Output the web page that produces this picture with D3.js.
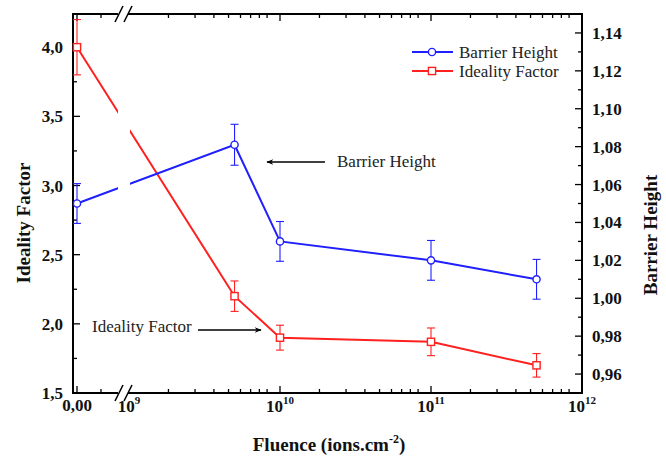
<!DOCTYPE html>
<html>
<head>
<meta charset="utf-8">
<script src="https://cdn.jsdelivr.net/npm/d3@7"></script>
<style>
html,body{margin:0;padding:0;background:#fff;}
svg{display:block;}
text{font-family:"Liberation Serif","Times New Roman",serif;}
</style>
</head>
<body>
<svg id="chart" width="666" height="458"></svg>
<script>
// ---- data ----
const fluence = [0, 5e9, 1e10, 1e11, 5e11];
const barrierHeight = [1.050, 1.081, 1.030, 1.020, 1.010];
const barrierErr = [0.0105, 0.0108, 0.0105, 0.0105, 0.0105];
const idealityFactor = [4.0, 2.20, 1.90, 1.87, 1.70];
const idealityErr = [0.20, 0.11, 0.09, 0.10, 0.085];
const leftTicks = [1.5, 2.0, 2.5, 3.0, 3.5, 4.0];
const leftTickLabels = ["1,5", "2,0", "2,5", "3,0", "3,5", "4,0"];
const rightTicks = [0.96, 0.98, 1.00, 1.02, 1.04, 1.06, 1.08, 1.10, 1.12, 1.14];
const rightTickLabels = ["0,96", "0,98", "1,00", "1,02", "1,04", "1,06", "1,08", "1,10", "1,12", "1,14"];
const xLogTicks = [1e9, 1e10, 1e11, 1e12];
const xLogTickExp = ["9", "10", "11", "12"];
const xZeroLabel = "0,00";
const seriesNames = ["Barrier Height", "Ideality Factor"];

// ---- layout ----
const L = 73, R = 582, T = 14, B = 393;
const breakL = 118, breakR = 130;
const svg = d3.select("#chart");

const yLeft = d3.scaleLinear().domain([1.5, 4.24]).range([B, T]);
const yRight = d3.scaleLinear().domain([0.95, 1.15]).range([B, T]);
const xLin = d3.scaleLinear().domain([-1/6, 1.7083]).range([L, breakL]);
const xLog = d3.scaleLog().domain([1e9, 1e12]).range([129, R]);
const xPos = v => v === 0 ? xLin(v) : xLog(v);

const blue = "#1f1fff", red = "#ff2020";

// clip for broken lines
const defs = svg.append("defs");
const cp = defs.append("clipPath").attr("id", "brk");
cp.append("rect").attr("x", 0).attr("y", 0).attr("width", breakL).attr("height", 458);
cp.append("rect").attr("x", breakR).attr("y", 0).attr("width", 666 - breakR).attr("height", 458);
defs.append("marker").attr("id", "arr").attr("viewBox", "0 0 10 10").attr("refX", 9).attr("refY", 5)
  .attr("markerWidth", 9).attr("markerHeight", 7).attr("markerUnits", "userSpaceOnUse").attr("orient", "auto")
  .append("path").attr("d", "M0,1 L10,5 L0,9 L3,5 Z").attr("fill", "#000");

// ---- axes frame ----
const axisG = svg.append("g");
const majorLen = 7, minorLen = 4, minorShift = -6;
const xMajor = [xLin(0)].concat(xLogTicks.slice(1).map(d => xLog(d)));
const xMinor = [xLin(1)];
[1e9, 1e10, 1e11].forEach(dec => { for (let k = 2; k <= 9; k++) xMinor.push(xLog(k * dec) + minorShift); });
[[B, -1], [T, 1]].forEach(([y0, dir]) => {
  axisG.selectAll(null).data(xMajor).enter().append("line")
    .attr("x1", d => d).attr("x2", d => d).attr("y1", y0).attr("y2", y0 + dir * majorLen)
    .attr("stroke", "#000").attr("stroke-width", 1.3);
  axisG.selectAll(null).data(xMinor).enter().append("line")
    .attr("x1", d => d).attr("x2", d => d).attr("y1", y0).attr("y2", y0 + dir * minorLen)
    .attr("stroke", "#000").attr("stroke-width", 1.3);
});
const leftMinor = d3.range(1.75, 4.24, 0.5);
axisG.selectAll(null).data(leftTicks).enter().append("line")
  .attr("x1", L).attr("x2", L + majorLen).attr("y1", d => yLeft(d)).attr("y2", d => yLeft(d))
  .attr("stroke", "#000").attr("stroke-width", 1.3);
axisG.selectAll(null).data(leftMinor).enter().append("line")
  .attr("x1", L).attr("x2", L + minorLen).attr("y1", d => yLeft(d)).attr("y2", d => yLeft(d))
  .attr("stroke", "#000").attr("stroke-width", 1.3);
const rightMinor = d3.range(0.95, 1.151, 0.02);
axisG.selectAll(null).data(rightTicks).enter().append("line")
  .attr("x1", R).attr("x2", R - majorLen).attr("y1", d => yRight(d)).attr("y2", d => yRight(d))
  .attr("stroke", "#000").attr("stroke-width", 1.3);
axisG.selectAll(null).data(rightMinor).enter().append("line")
  .attr("x1", R).attr("x2", R - minorLen).attr("y1", d => yRight(d)).attr("y2", d => yRight(d))
  .attr("stroke", "#000").attr("stroke-width", 1.3);

axisG.append("rect").attr("x", L).attr("y", T).attr("width", R - L).attr("height", B - T)
  .attr("fill", "none").attr("stroke", "#000").attr("stroke-width", 2);

// break marks
[B, T].forEach(y0 => {
  axisG.append("rect").attr("x", 118).attr("y", y0 - 2).attr("width", 10).attr("height", 4).attr("fill", "#fff");
  [115, 124].forEach(x0 => {
    axisG.append("line").attr("x1", x0).attr("y1", y0 + 8).attr("x2", x0 + 8).attr("y2", y0 - 8)
      .attr("stroke", "#000").attr("stroke-width", 1.6);
  });
});

// tick labels
const lbl = svg.append("g").attr("font-weight", "bold").attr("font-size", 17).attr("fill", "#111");
lbl.selectAll(null).data(leftTicks).enter().append("text")
  .attr("x", L - 10).attr("y", d => yLeft(d) + 6).attr("text-anchor", "end")
  .text((d, i) => leftTickLabels[i]);
lbl.selectAll(null).data(rightTicks).enter().append("text")
  .attr("x", R + 10).attr("y", d => yRight(d) + 6).attr("text-anchor", "start")
  .text((d, i) => rightTickLabels[i]);
lbl.append("text").attr("x", xLin(0)).attr("y", B + 18).attr("text-anchor", "middle").text(xZeroLabel);
xLogTicks.forEach((d, i) => {
  const t = lbl.append("text").attr("x", xLog(d)).attr("y", B + 19).attr("text-anchor", "middle");
  t.append("tspan").text("10");
  t.append("tspan").attr("font-size", 11).attr("dy", -8).text(xLogTickExp[i]);
});

// axis titles
const ttl = svg.append("g").attr("font-weight", "bold").attr("font-size", 19).attr("fill", "#111");
const xt = ttl.append("text").attr("x", 329).attr("y", 451).attr("text-anchor", "middle");
xt.append("tspan").text("Fluence (ions.cm");
xt.append("tspan").attr("font-size", 12).attr("dy", -8).text("-2");
xt.append("tspan").attr("dy", 8).text(")");
ttl.append("text").attr("transform", "translate(30,223) rotate(-90)").attr("text-anchor", "middle").text("Ideality Factor");
ttl.append("text").attr("transform", "translate(657,235) rotate(-90)").attr("text-anchor", "middle").text("Barrier Height");

// ---- series ----
function drawSeries(vals, errs, yS, color, shape) {
  const g = svg.append("g");
  const line = d3.line().x((d, i) => xPos(fluence[i])).y(d => yS(d));
  g.append("path").datum(vals).attr("d", line).attr("fill", "none").attr("stroke", color)
    .attr("stroke-width", 2).attr("clip-path", "url(#brk)");
  const cw = 4;
  vals.forEach((v, i) => {
    const x = xPos(fluence[i]), y1 = yS(v - errs[i]), y2 = yS(v + errs[i]);
    g.append("line").attr("x1", x).attr("x2", x).attr("y1", y1).attr("y2", y2).attr("stroke", color).attr("stroke-width", 1.1);
    [y1, y2].forEach(yy => g.append("line").attr("x1", x - cw).attr("x2", x + cw).attr("y1", yy).attr("y2", yy).attr("stroke", color).attr("stroke-width", 1.1));
  });
  vals.forEach((v, i) => {
    const x = xPos(fluence[i]), y = yS(v);
    if (shape === "circle") g.append("circle").attr("cx", x).attr("cy", y).attr("r", 3.6).attr("fill", "#fff").attr("stroke", color).attr("stroke-width", 1.4);
    else g.append("rect").attr("x", x - 3.6).attr("y", y - 3.6).attr("width", 7.2).attr("height", 7.2).attr("fill", "#fff").attr("stroke", color).attr("stroke-width", 1.4);
  });
}
drawSeries(idealityFactor, idealityErr, yLeft, red, "square");
drawSeries(barrierHeight, barrierErr, yRight, blue, "circle");

// ---- legend ----
const lg = svg.append("g").attr("font-size", 17).attr("fill", "#222");
[[52, blue, "circle", seriesNames[0]], [71, red, "square", seriesNames[1]]].forEach(([y, c, s, name]) => {
  lg.append("line").attr("x1", 412).attr("x2", 453).attr("y1", y).attr("y2", y).attr("stroke", c).attr("stroke-width", 2);
  if (s === "circle") lg.append("circle").attr("cx", 432).attr("cy", y).attr("r", 3.6).attr("fill", "#fff").attr("stroke", c).attr("stroke-width", 1.4);
  else lg.append("rect").attr("x", 428.4).attr("y", y - 3.6).attr("width", 7.2).attr("height", 7.2).attr("fill", "#fff").attr("stroke", c).attr("stroke-width", 1.4);
  lg.append("text").attr("x", 459).attr("y", y + 5.5).text(name);
});

// ---- annotations ----
const an = svg.append("g").attr("font-size", 17).attr("fill", "#222");
an.append("text").attr("x", 337).attr("y", 167).text("Barrier Height");
an.append("line").attr("x1", 325).attr("x2", 267).attr("y1", 162).attr("y2", 162).attr("stroke", "#000").attr("stroke-width", 1.3).attr("marker-end", "url(#arr)");
an.append("text").attr("x", 92).attr("y", 332).text("Ideality Factor");
an.append("line").attr("x1", 198).attr("x2", 261).attr("y1", 330).attr("y2", 330).attr("stroke", "#000").attr("stroke-width", 1.3).attr("marker-end", "url(#arr)");
</script>
</body>
</html>
